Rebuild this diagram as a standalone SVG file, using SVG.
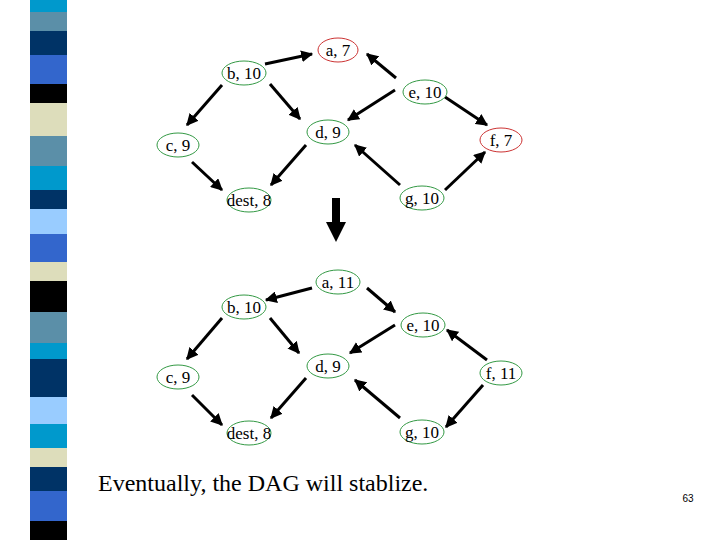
<svg xmlns="http://www.w3.org/2000/svg" width="720" height="540" viewBox="0 0 720 540">
<style>
.n{fill:#fff;stroke:#339944;stroke-width:1}
.r{fill:#fff;stroke:#cc3333;stroke-width:1}
.t{font-family:"Liberation Serif",serif;font-size:17px;text-anchor:middle;fill:#000}
.cap{font-family:"Liberation Serif",serif;font-size:24px;fill:#000}
.pg{font-family:"Liberation Sans",sans-serif;font-size:10px;text-anchor:middle;fill:#000}
.e{stroke:#000;stroke-width:3;marker-end:url(#ah)}
</style>
<defs>
<marker id="ah" viewBox="0 0 10 10" refX="9" refY="5" markerWidth="4" markerHeight="4" orient="auto" markerUnits="strokeWidth"><path d="M0,0L10,5L0,10z" fill="#000"/></marker>
</defs>
<rect width="720" height="540" fill="#fff"/>
<g id="stripe">
<rect x="30" y="0" width="37" height="12" fill="#0099cc"/>
<rect x="30" y="12" width="37" height="19" fill="#5b8fa8"/>
<rect x="30" y="31" width="37" height="24" fill="#003366"/>
<rect x="30" y="55" width="37" height="29" fill="#3366cc"/>
<rect x="30" y="84" width="37" height="19" fill="#000"/>
<rect x="30" y="103" width="37" height="33" fill="#ddddbb"/>
<rect x="30" y="136" width="37" height="30" fill="#5b8fa8"/>
<rect x="30" y="166" width="37" height="24" fill="#0099cc"/>
<rect x="30" y="190" width="37" height="19" fill="#003366"/>
<rect x="30" y="209" width="37" height="25" fill="#99ccff"/>
<rect x="30" y="234" width="37" height="28" fill="#3366cc"/>
<rect x="30" y="262" width="37" height="19" fill="#ddddbb"/>
<rect x="30" y="281" width="37" height="31" fill="#000"/>
<rect x="30" y="312" width="37" height="31" fill="#5b8fa8"/>
<rect x="30" y="343" width="37" height="16" fill="#0099cc"/>
<rect x="30" y="359" width="37" height="38" fill="#003366"/>
<rect x="30" y="397" width="37" height="27" fill="#99ccff"/>
<rect x="30" y="424" width="37" height="24" fill="#0099cc"/>
<rect x="30" y="448" width="37" height="19" fill="#ddddbb"/>
<rect x="30" y="467" width="37" height="24" fill="#003366"/>
<rect x="30" y="491" width="37" height="30" fill="#3366cc"/>
<rect x="30" y="521" width="37" height="19" fill="#000"/>
</g>
<g id="connectors">
<line class="e" x1="265" y1="64" x2="312" y2="54"/>
<line class="e" x1="396" y1="78" x2="367" y2="54"/>
<line class="e" x1="222" y1="85" x2="187" y2="125"/>
<line class="e" x1="270" y1="84" x2="300" y2="119"/>
<line class="e" x1="395" y1="90" x2="348" y2="120"/>
<line class="e" x1="445" y1="97" x2="487" y2="125"/>
<line class="e" x1="192" y1="162" x2="222" y2="190"/>
<line class="e" x1="306" y1="145" x2="271" y2="185"/>
<line class="e" x1="400" y1="185" x2="355" y2="145"/>
<line class="e" x1="445" y1="190" x2="485" y2="152"/>
<line class="e" x1="312" y1="288" x2="266" y2="300"/>
<line class="e" x1="367" y1="288" x2="395" y2="312"/>
<line class="e" x1="222" y1="318" x2="187" y2="359"/>
<line class="e" x1="270" y1="318" x2="299" y2="353"/>
<line class="e" x1="395" y1="325" x2="350" y2="353"/>
<line class="e" x1="487" y1="360" x2="447" y2="330"/>
<line class="e" x1="483" y1="385" x2="446" y2="427"/>
<line class="e" x1="192" y1="395" x2="222" y2="425"/>
<line class="e" x1="306" y1="378" x2="271" y2="418"/>
<line class="e" x1="400" y1="418" x2="355" y2="380"/>
<path d="M332,198H340V222H346L336,242L326,222H332Z" fill="#000"/>
</g>
<g id="a1"><ellipse class="r" cx="338" cy="50" rx="20" ry="12"/><text class="t" x="338" y="56">a, 7</text></g>
<g id="b1"><ellipse class="n" cx="244" cy="73" rx="22" ry="12"/><text class="t" x="244" y="79">b, 10</text></g>
<g id="e1"><ellipse class="n" cx="425" cy="92" rx="22" ry="12"/><text class="t" x="425" y="98">e, 10</text></g>
<g id="c1"><ellipse class="n" cx="178" cy="145" rx="21" ry="12"/><text class="t" x="178" y="151">c, 9</text></g>
<g id="d1"><ellipse class="n" cx="328" cy="132" rx="21" ry="12"/><text class="t" x="328" y="138">d, 9</text></g>
<g id="f1"><ellipse class="r" cx="501" cy="140" rx="21" ry="12"/><text class="t" x="501" y="146">f, 7</text></g>
<g id="dest1"><ellipse class="n" cx="249" cy="200" rx="22" ry="12"/><text class="t" x="249" y="206">dest, 8</text></g>
<g id="g1"><ellipse class="n" cx="422" cy="198" rx="22" ry="12"/><text class="t" x="422" y="204">g, 10</text></g>
<g id="a2"><ellipse class="n" cx="338" cy="282" rx="22" ry="12"/><text class="t" x="338" y="288">a, 11</text></g>
<g id="b2"><ellipse class="n" cx="244" cy="307" rx="22" ry="12"/><text class="t" x="244" y="313">b, 10</text></g>
<g id="e2"><ellipse class="n" cx="423" cy="325" rx="22" ry="12"/><text class="t" x="423" y="331">e, 10</text></g>
<g id="c2"><ellipse class="n" cx="178" cy="377" rx="21" ry="12"/><text class="t" x="178" y="383">c, 9</text></g>
<g id="d2"><ellipse class="n" cx="328" cy="366" rx="21" ry="12"/><text class="t" x="328" y="372">d, 9</text></g>
<g id="f2"><ellipse class="n" cx="501" cy="373" rx="21" ry="12"/><text class="t" x="501" y="379">f, 11</text></g>
<g id="dest2"><ellipse class="n" cx="249" cy="433" rx="22" ry="12"/><text class="t" x="249" y="439">dest, 8</text></g>
<g id="g2"><ellipse class="n" cx="422" cy="432" rx="22" ry="12"/><text class="t" x="422" y="438">g, 10</text></g>
<text class="cap" x="98" y="491">Eventually, the DAG will stablize.</text>
<text class="pg" x="688" y="502">63</text>
</svg>
